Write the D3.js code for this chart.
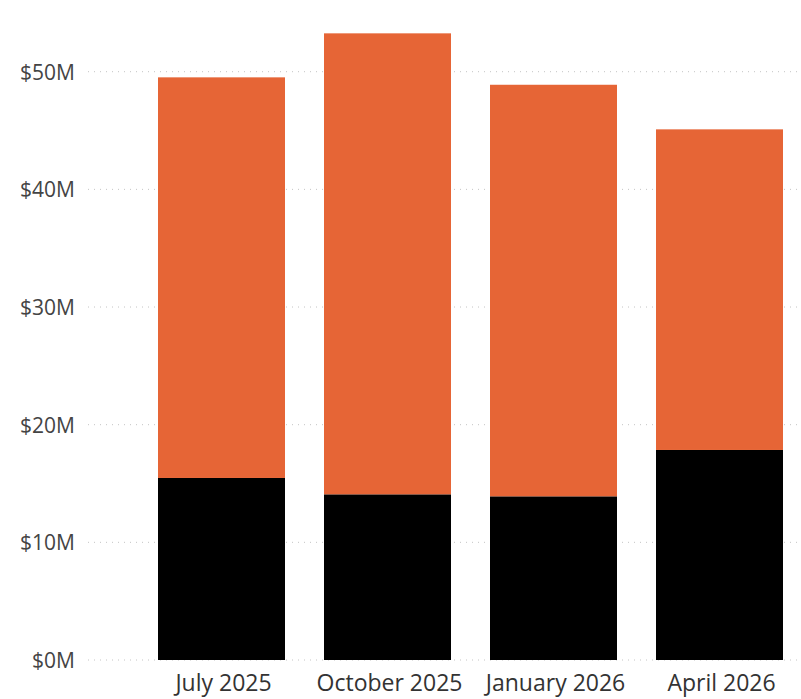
<!DOCTYPE html>
<html>
<head>
<meta charset="utf-8">
<script src="https://cdn.jsdelivr.net/npm/d3@7/dist/d3.min.js"></script>
<style>
  html, body { margin: 0; padding: 0; background: #fff; }
  svg { display: block; }
</style>
</head>
<body>
<svg id="chart" width="801" height="699"></svg>
<script>
// Quarterly totals split into two stacked components (in $M)
const quarters = ["July 2025", "October 2025", "January 2026", "April 2026"];
const baseValues = [15.47, 14.08, 13.91, 17.85];   // black, bottom segment
const topValues = [34.05, 39.18, 34.98, 27.25];    // orange, upper segment
const yTicks = [0, 10, 20, 30, 40, 50];

const colors = { base: "#000000", top: "#E66536" };
const fontFamily = "'Open Sans', 'Noto Sans', sans-serif";

const svg = d3.select("#chart");
const plot = { left: 88, right: 800, top: 20, bottom: 660 };

const rows = quarters.map((q, i) => ({ quarter: q, base: baseValues[i], top: topValues[i] }));
const stacked = d3.stack().keys(["base", "top"])(rows);

const x = d3.scaleBand()
  .domain(quarters)
  .range([138.5, 802.5])
  .paddingInner(0.235)
  .paddingOuter(0.1175);

const y = d3.scaleLinear()
  .domain([0, 50])
  .range([plot.bottom, 71.7]);

// dotted horizontal gridlines
svg.append("g")
  .selectAll("line")
  .data(yTicks)
  .join("line")
  .attr("x1", plot.left)
  .attr("x2", plot.right)
  .attr("y1", d => y(d))
  .attr("y2", d => y(d))
  .attr("stroke", "#c4c4c4")
  .attr("stroke-width", 1)
  .attr("stroke-dasharray", "1,5");

// y axis labels
const yAxis = d3.axisLeft(y).tickValues(yTicks).tickSize(0).tickPadding(0)
  .tickFormat(d => `$${d}M`);
const gy = svg.append("g").attr("transform", "translate(75,0)").call(yAxis);
gy.select(".domain").remove();
gy.selectAll("text")
  .attr("fill", "#444")
  .attr("dy", "0.36em")
  .style("font-family", fontFamily)
  .style("font-size", "21px");

// stacked bars
svg.append("g")
  .selectAll("g")
  .data(stacked)
  .join("g")
  .attr("fill", d => colors[d.key])
  .selectAll("rect")
  .data(d => d)
  .join("rect")
  .attr("x", d => x(d.data.quarter))
  .attr("width", x.bandwidth())
  .attr("y", d => y(d[1]))
  .attr("height", d => y(d[0]) - y(d[1]));

// x axis labels
const xAxis = d3.axisBottom(x).tickSize(0).tickPadding(0);
const gx = svg.append("g").attr("transform", `translate(2,${plot.bottom})`).call(xAxis);
gx.select(".domain").remove();
gx.selectAll("text")
  .attr("fill", "#333")
  .attr("y", 31)
  .attr("dy", 0)
  .style("font-family", fontFamily)
  .style("font-size", "23px");
</script>
</body>
</html>
